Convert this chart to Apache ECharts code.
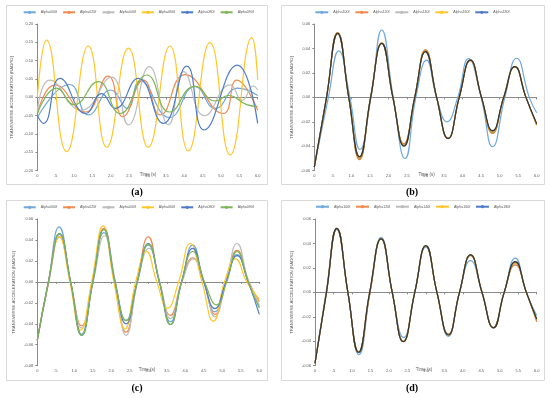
<!DOCTYPE html>
<html><head><meta charset="utf-8">
<script src="https://cdn.jsdelivr.net/npm/echarts@6/dist/echarts.min.js"></script>
<style>html,body{margin:0;padding:0;background:#fff}#c{width:550px;height:398px}</style>
</head><body><div id="c"></div>
<script>
// ---------- tick labels ----------
const xTickLabels = ['0','.5','1.0','1.5','2.0','2.5','3.0','3.5','4.0','4.5','5.0','5.5','6.0'];
const namesAC = ['Alpha000f','Alpha020f','Alpha040f','Alpha060f','Alpha080f','Alpha090f'];
const namesBD = ['Alpha100f','Alpha120f','Alpha140f','Alpha160f','Alpha180f'];
const panelLabels = ['(a)','(b)','(c)','(d)'];
const yName = 'TRANSVERSE ACCELERATION (RAD/S2)';
const xName = 'Time (s)';

// ---------- panel (a) : [time, value] ----------
const a000 = [[0,-0.055],[0.88,0.035],[1.39,-0.048],[2.00,0.02],[2.45,-0.03],[2.80,0.045],[3.60,-0.055],[4.29,0.030],[4.85,-0.03],[5.45,0.025],[6.0,0.005]];
const a020 = [[0,-0.045],[0.48,0.034],[1.30,-0.040],[1.93,0.058],[2.33,-0.053],[2.89,0.047],[3.35,-0.048],[4.02,0.062],[5.06,-0.044],[5.43,0.047],[6.0,-0.035]];
const a040 = [[0,-0.04],[0.34,0.047],[1.20,-0.035],[2.02,0.055],[2.48,-0.075],[3.05,0.084],[3.57,-0.075],[3.99,0.07],[4.55,-0.05],[5.25,0.034],[5.58,-0.008],[5.88,0.031],[6.0,0.02]];
const a060 = [[0,0.0],[0.25,0.156],[0.80,-0.148],[1.39,0.140],[1.89,-0.136],[2.48,0.134],[3.02,-0.136],[3.61,0.140],[4.11,-0.146],[4.70,0.149],[5.25,-0.157],[5.84,0.163],[6.0,0.047]];
const a080 = [[0,-0.05],[0.17,-0.071],[0.62,0.052],[1.32,-0.044],[1.75,0.01],[2.12,-0.03],[2.75,0.052],[3.43,-0.071],[4.07,0.085],[4.54,-0.089],[5.44,0.088],[6.0,-0.071]];
const a090 = [[0,-0.045],[0.53,0.025],[1.00,-0.02],[1.66,0.043],[2.25,-0.044],[2.98,0.061],[3.60,-0.04],[4.29,0.03],[4.85,-0.01],[5.20,0.005],[5.70,-0.02],[6.0,-0.025]];

// ---------- panel (b) ----------
const b100 = [[0,-0.057],[0.38,0],[0.66,0.038],[0.96,0],[1.23,-0.0426],[1.53,0],[1.82,0.0551],[2.13,0],[2.45,-0.050],[2.74,0],[3.03,0.0305],[3.30,0],[3.58,-0.020],[3.87,0],[4.16,0.0316],[4.50,0],[4.81,-0.0404],[5.14,0],[5.46,0.032],[5.80,0],[6.0,-0.0126]];
const b120 = [[0,-0.057],[0.33,0],[0.63,0.053],[0.93,0],[1.22,-0.051],[1.52,0],[1.82,0.0445],[2.12,0],[2.42,-0.038],[2.71,0],[3.0,0.039],[3.30,0],[3.61,-0.0335],[3.91,0],[4.21,0.030],[4.51,0],[4.81,-0.0295],[5.11,0],[5.41,0.025],[5.71,0],[6.0,-0.0228]];
const b140 = [[0,-0.057],[0.33,0],[0.63,0.0522],[0.93,0],[1.22,-0.0485],[1.52,0],[1.82,0.0442],[2.12,0],[2.42,-0.0395],[2.71,0],[3.0,0.0372],[3.30,0],[3.61,-0.0338],[3.91,0],[4.21,0.0305],[4.51,0],[4.81,-0.0278],[5.11,0],[5.41,0.0252],[5.71,0],[6.0,-0.0218]];
const b160 = [[0,-0.057],[0.33,0],[0.63,0.0527],[0.93,0],[1.22,-0.050],[1.52,0],[1.82,0.0443],[2.12,0],[2.42,-0.039],[2.71,0],[3.0,0.0382],[3.30,0],[3.61,-0.0336],[3.91,0],[4.21,0.0303],[4.51,0],[4.81,-0.029],[5.11,0],[5.41,0.0251],[5.71,0],[6.0,-0.0222]];
const b180 = [[0,-0.057],[0.33,0],[0.63,0.0524],[0.93,0],[1.22,-0.0487],[1.52,0],[1.82,0.0442],[2.12,0],[2.42,-0.040],[2.71,0],[3.0,0.0374],[3.30,0],[3.61,-0.0336],[3.91,0],[4.21,0.0305],[4.51,0],[4.81,-0.0272],[5.11,0],[5.41,0.0252],[5.71,0],[6.0,-0.0215]];

// ---------- panel (c) ----------
const c000 = [[0,-0.0557],[0.30,0],[0.59,0.0525],[0.90,0],[1.20,-0.050],[1.50,0],[1.80,0.047],[2.10,0],[2.40,-0.0366],[2.70,0],[3.0,0.035],[3.30,0],[3.60,-0.038],[3.90,0],[4.20,0.035],[4.50,0],[4.80,-0.0286],[5.10,0],[5.40,0.026],[5.70,0],[6.0,-0.024]];
const c020 = [[0,-0.0557],[0.31,0],[0.60,0.043],[0.90,0],[1.20,-0.042],[1.50,0],[1.80,0.051],[2.10,0],[2.40,-0.048],[2.70,0],[3.0,0.043],[3.30,0],[3.60,-0.032],[3.90,0],[4.20,0.023],[4.50,0],[4.80,-0.031],[5.10,0],[5.40,0.030],[5.72,0],[6.0,-0.019]];
const c040 = [[0,-0.0557],[0.31,0],[0.60,0.045],[0.90,0],[1.20,-0.044],[1.51,0],[1.82,0.044],[2.11,0],[2.40,-0.051],[2.71,0],[3.02,0.032],[3.31,0],[3.60,-0.035],[3.91,0],[4.22,0.022],[4.51,0],[4.80,-0.0333],[5.10,0],[5.40,0.0366],[5.71,0],[6.0,-0.022]];
const c060 = [[0,-0.0557],[0.30,0],[0.60,0.043],[0.88,0],[1.17,-0.046],[1.47,0],[1.78,0.0535],[2.07,0],[2.37,-0.045],[2.66,0],[2.95,0.029],[3.23,0],[3.52,-0.025],[3.82,0],[4.13,0.0366],[4.45,0],[4.76,-0.0375],[5.06,0],[5.36,0.022],[5.66,0],[6.0,-0.0165]];
const c080 = [[0,-0.0557],[0.30,0],[0.60,0.046],[0.90,0],[1.20,-0.051],[1.50,0],[1.80,0.050],[2.10,0],[2.40,-0.040],[2.70,0],[3.0,0.0366],[3.30,0],[3.60,-0.0407],[3.90,0],[4.20,0.032],[4.50,0],[4.80,-0.0255],[5.10,0],[5.40,0.025],[5.70,0],[6.0,-0.031]];
const c090 = [[0,-0.0557],[0.30,0],[0.60,0.046],[0.90,0],[1.20,-0.051],[1.50,0],[1.80,0.050],[2.10,0],[2.40,-0.037],[2.70,0],[3.0,0.036],[3.30,0],[3.60,-0.0407],[3.90,0],[4.20,0.029],[4.52,0],[4.85,-0.022],[5.12,0],[5.40,0.029],[5.70,0],[6.0,-0.025]];

// ---------- panel (d) ----------
const d100 = [[0,-0.058],[0.30,0],[0.59,0.0515],[0.89,0],[1.19,-0.051],[1.49,0],[1.79,0.045],[2.09,0],[2.40,-0.037],[2.70,0],[3.0,0.037],[3.30,0],[3.61,-0.036],[3.91,0],[4.21,0.026],[4.52,0],[4.83,-0.029],[5.12,0],[5.42,0.028],[5.72,0],[6.0,-0.019]];
const d120 = [[0,-0.058],[0.31,0],[0.59,0.052],[0.89,0],[1.18,-0.049],[1.49,0],[1.79,0.044],[2.09,0],[2.39,-0.040],[2.70,0],[3.0,0.038],[3.30,0],[3.61,-0.034],[3.91,0],[4.21,0.030],[4.52,0],[4.83,-0.029],[5.12,0],[5.42,0.0225],[5.72,0],[6.0,-0.024]];
const d140 = [[0,-0.058],[0.31,0],[0.59,0.0522],[0.89,0],[1.18,-0.0492],[1.48,0],[1.79,0.0438],[2.09,0],[2.39,-0.0402],[2.70,0],[3.0,0.0380],[3.30,0],[3.61,-0.0347],[3.91,0],[4.21,0.0305],[4.52,0],[4.83,-0.0288],[5.12,0],[5.42,0.0245],[5.72,0],[6.0,-0.0222]];
const d160 = [[0,-0.058],[0.31,0],[0.59,0.0523],[0.89,0],[1.18,-0.0491],[1.48,0],[1.79,0.0437],[2.09,0],[2.39,-0.0403],[2.70,0],[3.0,0.0381],[3.30,0],[3.61,-0.0348],[3.91,0],[4.21,0.0306],[4.52,0],[4.83,-0.0289],[5.12,0],[5.42,0.0240],[5.72,0],[6.0,-0.0226]];
const d180 = [[0,-0.058],[0.31,0],[0.59,0.0524],[0.89,0],[1.18,-0.049],[1.48,0],[1.79,0.0437],[2.09,0],[2.39,-0.0404],[2.70,0],[3.0,0.0382],[3.30,0],[3.61,-0.0349],[3.91,0],[4.21,0.0306],[4.52,0],[4.83,-0.029],[5.12,0],[5.42,0.0251],[5.72,0],[6.0,-0.0218]];

const panelSeries = [
  [a000,a020,a040,a060,a080,a090],
  [b100,b120,b140,b160,b180],
  [c000,c020,c040,c060,c080,c090],
  [d100,d120,d140,d160,d180]
];
const panelNames = [namesAC, namesBD, namesAC, namesBD];
const yMin = [-0.2,-0.06,-0.08,-0.06];
const yMax = [0.2,0.06,0.06,0.06];
const yStep = [0.05,0.02,0.02,0.02];

// ---------- styling / layout ----------
const palAC = ['#6FA8DC','#EE8A4E','#BDBDBD','#FFC629','#4F7CC9','#7DB556'];
const palBD = ['#6FA8DC','#E07A3E','#7A7A7A','#C49A2A','#333333'];
const legendBD = ['#6FA8DC','#EE8A4E','#BDBDBD','#FFC629','#4F7CC9'];
const grids = [
  {left:37.3, top:24, width:220.4, height:146.7},
  {left:314.3, top:24, width:222.4, height:146.7},
  {left:37.3, top:219, width:222, height:146.7},
  {left:315, top:219, width:221.7, height:146.7}
];
const frames = [[6,5,261,179],[281,5,263,179],[6,200,261,180],[281,200,263,180]];
const nameGaps = [23,20,21,21];
const legendPos = [
  {left:22.7, top:10.3, itemWidth:12, itemGap:5.2},
  {left:314.3, top:10.3, itemWidth:13, itemGap:4.8},
  {left:22.7, top:205.3, itemWidth:12, itemGap:5.2},
  {left:315, top:204.7, itemWidth:13, itemGap:4.8}
];
const labelPos = [[137,192],[412,192],[137,388],[412,388]];
const timePos = [[148,174.5],[426.7,174.5],[147,370],[424,369.5]];

const axisColor = '#8A8A8A', textColor = '#595959';
const option = {
  animation:false, backgroundColor:'#ffffff',
  grid: grids.map(g => Object.assign({containLabel:false}, g)),
  xAxis: grids.map((g,i) => ({
    type:'value', gridIndex:i, min:0, max:6, interval:0.5,
    axisLine:{show:true, onZero:true, lineStyle:{color:axisColor, width:1}},
    axisTick:{show:true, length:2, lineStyle:{color:axisColor}},
    axisLabel:{fontSize:4, color:textColor, margin:3, fontFamily:'Liberation Sans',
      formatter:v => xTickLabels[Math.round(v/0.5)]},
    splitLine:{show:false}
  })),
  yAxis: grids.map((g,i) => ({
    type:'value', gridIndex:i, min:yMin[i], max:yMax[i], interval:yStep[i],
    name:yName, nameLocation:'middle', nameGap:nameGaps[i], nameRotate:90,
    nameTextStyle:{fontSize:4.3, color:textColor, fontFamily:'Liberation Sans'},
    axisLine:{show:true, onZero:false, lineStyle:{color:axisColor, width:1}},
    axisTick:{show:true, length:2, lineStyle:{color:axisColor}},
    axisLabel:{fontSize:4, color:textColor, margin:4, fontFamily:'Liberation Sans',
      formatter:v => v.toFixed(2)},
    splitLine:{show:false}
  })),
  legend: legendPos.map((lp,i) => ({
    left:lp.left, top:lp.top, itemWidth:lp.itemWidth, itemHeight:4, itemGap:lp.itemGap,
    padding:0, selectedMode:false,
    textStyle:{fontSize:3.6, color:textColor, fontFamily:'Liberation Sans', lineHeight:4},
    data: panelNames[i].map((n,k) => {
      const c = (i % 2 === 0) ? palAC[k] : legendBD[k];
      return {name:n, lineStyle:{color:c}, itemStyle:{color:c}};
    })
  })),
  series: [],
  graphic: []
};
panelSeries.forEach((arr,i) => {
  arr.forEach((data,k) => {
    const col = (i % 2 === 0) ? palAC[k] : palBD[k];
    option.series.push({
      type:'line', name:panelNames[i][k], xAxisIndex:i, yAxisIndex:i,
      data:data, smooth:0.5, symbol:'none', clip:true,
      lineStyle:{color:col, width:1.2}, itemStyle:{color:col},
      z: 2 + k
    });
  });
});
frames.forEach(f => option.graphic.push({type:'rect', shape:{x:f[0]+0.5,y:f[1]+0.5,width:f[2],height:f[3]},
  style:{fill:null, stroke:'#D9D9D9', lineWidth:1}, silent:true, z:-1}));
labelPos.forEach((p,i) => option.graphic.push({type:'text', x:p[0], y:p[1],
  style:{text:panelLabels[i], fill:'#000', font:'bold 10px "Liberation Serif"', textAlign:'center', textVerticalAlign:'middle'}}));
timePos.forEach(p => option.graphic.push({type:'text', x:p[0], y:p[1],
  style:{text:xName, fill:textColor, font:'4.5px "Liberation Sans"', textAlign:'center', textVerticalAlign:'middle'}}));

const chart = echarts.init(document.getElementById('c'), null, {renderer:'canvas'});
chart.setOption(option);
</script></body></html>
